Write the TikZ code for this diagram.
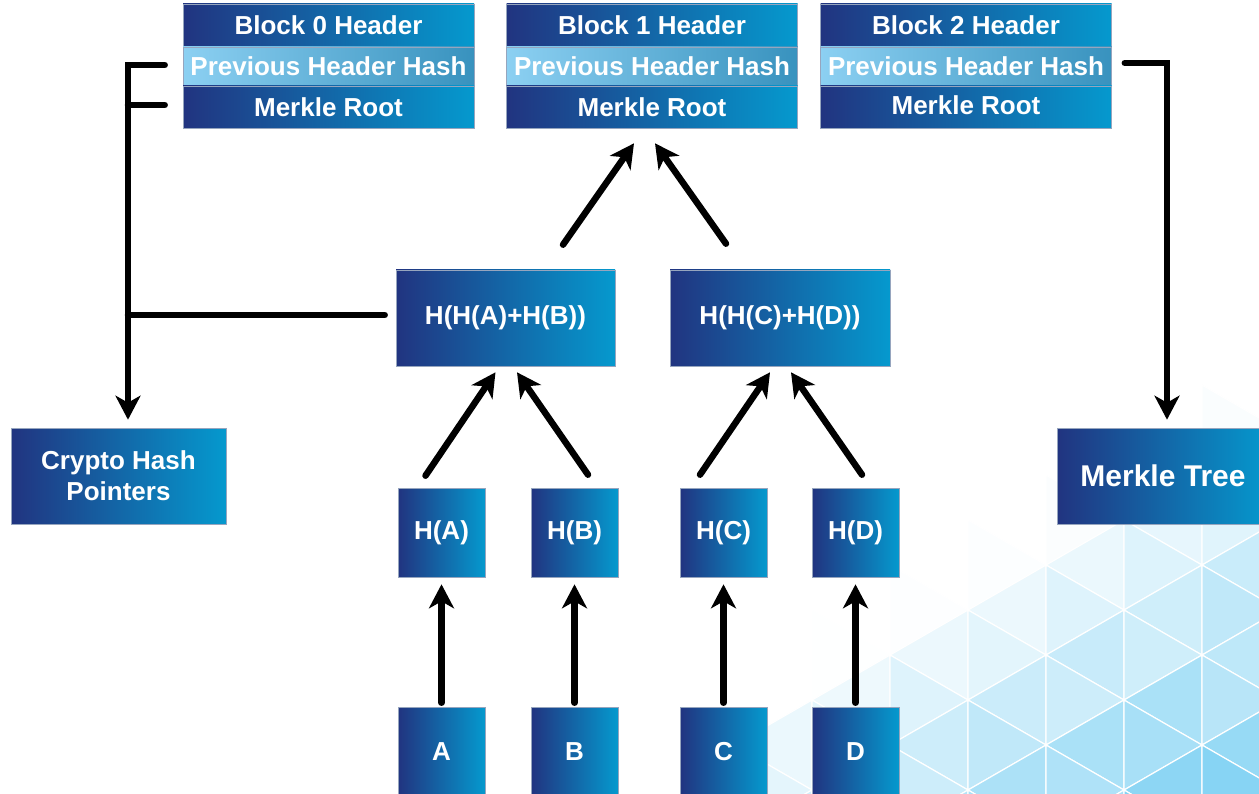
\documentclass[tikz,border=0pt]{standalone}
\usepackage{fontspec}
\setmainfont{Liberation Sans}
\usetikzlibrary{arrows.meta,calc}
\definecolor{dkL}{RGB}{33,52,128}
\definecolor{dkR}{RGB}{5,153,206}
\definecolor{ltL}{RGB}{140,208,242}
\definecolor{ltR}{RGB}{56,146,190}
\definecolor{edge}{RGB}{150,165,190}
\definecolor{sky}{RGB}{95,198,240}
\tikzset{
  box/.style={rectangle, inner sep=0pt, draw=edge, line width=0.6pt,
    left color=dkL, right color=dkR, text=white,
    font=\bfseries\fontsize{26}{31}\selectfont, align=center},
  lightbox/.style={box, left color=ltL, right color=ltR},
  hdr/.style={box, minimum width=291pt},
  leaf/.style={box, minimum width=87pt, minimum height=89pt},
  mid/.style={box, minimum width=219pt, minimum height=96pt},
  conn/.style={line width=6.5pt, line cap=round, line join=miter},
  arr/.style={conn, -{Stealth[length=24pt,width=25pt,inset=7pt]}},
}
\begin{document}
\begin{tikzpicture}[x=1pt,y=-1pt]
\useasboundingbox (0,0) rectangle (1259,794);
\clip (0,0) rectangle (1259,794);
% background triangular pattern
\pgfmathsetseed{7}
\foreach \i in {0,...,7}{
  \foreach \j in {4,...,9}{
    \pgfmathsetmacro\xa{734+78*\i}
    \pgfmathsetmacro\ya{25+45*mod(\i,2)+90*\j}
    \pgfmathsetmacro\fa{max(0,min(1,(\xa+26+1.6*(\ya+45)-1880)/640))}
    \pgfmathsetmacro\pa{max(0,min(80,\fa*(60+24*rnd)))}
    \pgfmathsetmacro\fb{max(0,min(1,(\xa+52+1.6*(\ya+90)-1880)/640))}
    \pgfmathsetmacro\pb{max(0,min(80,\fb*(60+24*rnd)))}
    \fill[sky!\pa, draw=white, line width=1.2pt] (\xa,\ya) -- (\xa,\ya+90) -- (\xa+78,\ya+45) -- cycle;
    \fill[sky!\pb, draw=white, line width=1.2pt] (\xa+78,\ya+45) -- (\xa+78,\ya+135) -- (\xa,\ya+90) -- cycle;
  }
}
% headers
\node[hdr, minimum height=43pt] (b0t) at (328.5,25.5) {\raisebox{-2pt}{Block 0 Header}};
\node[hdr, lightbox, minimum height=39pt] (b0m) at (328.5,66.5) {Previous Header Hash};
\node[hdr, minimum height=42pt] (b0b) at (328.5,107) {Merkle Root};
\node[hdr, minimum height=43pt] (b1t) at (652,25.5) {\raisebox{-2pt}{Block 1 Header}};
\node[hdr, lightbox, minimum height=39pt] (b1m) at (652,66.5) {Previous Header Hash};
\node[hdr, minimum height=42pt] (b1b) at (652,107) {Merkle Root};
\node[hdr, minimum height=43pt] (b2t) at (966,25.5) {Block 2 Header};
\node[hdr, lightbox, minimum height=39pt] (b2m) at (966,66.5) {Previous Header Hash};
\node[hdr, minimum height=42pt] (b2b) at (966,107) {\raisebox{4pt}{Merkle Root}};
% side boxes
\node[box, minimum width=215pt, minimum height=96pt] (ch) at (118.5,476) {Crypto Hash\\Pointers};
\node[box, minimum width=212pt, minimum height=96pt, font=\bfseries\fontsize{30}{34}\selectfont] (mt) at (1163,476) {Merkle Tree};
% middle
\node[mid] (m1) at (505.5,318) {H(H(A)+H(B))};
\node[mid, minimum width=220pt] (m2) at (780,318) {H(H(C)+H(D))};
% leaf hashes
\node[leaf] (ha) at (441.5,532.5) {H(A)};
\node[leaf] (hb) at (574.5,532.5) {H(B)};
\node[leaf] (hc) at (723.5,532.5) {H(C)};
\node[leaf] (hd) at (855.5,532.5) {H(D)};
% data
\node[leaf, minimum height=90pt] (a) at (441.5,752) {A};
\node[leaf, minimum height=90pt] (b) at (574.5,752) {B};
\node[leaf, minimum height=90pt] (c) at (723.5,752) {C};
\node[leaf, minimum height=90pt] (d) at (855.5,752) {D};
% vertical arrows
\draw[arr] ([yshift=4pt]a.north) -- ([yshift=-7pt]ha.south);
\draw[arr] ([yshift=4pt]b.north) -- ([yshift=-7pt]hb.south);
\draw[arr] ([yshift=4pt]c.north) -- ([yshift=-7pt]hc.south);
\draw[arr] ([yshift=4pt]d.north) -- ([yshift=-7pt]hd.south);
% diagonal arrows
\draw[arr] ([shift={(-16,-12)}]ha.north) -- ([shift={(-10,6)}]m1.south);
\draw[arr] ([shift={(13.5,-13)}]hb.north) -- ([shift={(11.5,6)}]m1.south);
\draw[arr] ([shift={(-23.5,-13)}]hc.north) -- ([shift={(-10,6)}]m2.south);
\draw[arr] ([shift={(6.5,-13)}]hd.north) -- ([shift={(11,6)}]m2.south);
\draw[arr] ([shift={(57.5,-25)}]m1.north) -- ([shift={(-18,15)}]b1b.south);
\draw[arr] ([shift={(-54,-26)}]m2.north) -- ([shift={(3,15)}]b1b.south);
% left bracket
\coordinate (lx) at (128,315);
\draw[arr] ([xshift=-18pt,yshift=1.5pt]b0m.west) -| ([xshift=9.5pt,yshift=8pt]ch.north);
\draw[conn] ([xshift=-18pt,yshift=2pt]b0b.west) -- ([yshift=2pt]b0b.west -| lx);
\draw[conn] ([xshift=-11pt,yshift=3pt]m1.west) -- (lx);
% right bracket
\draw[arr] ([xshift=13pt,yshift=3.5pt]b2m.east) -| ([xshift=4pt,yshift=8pt]mt.north);
\end{tikzpicture}
\end{document}
